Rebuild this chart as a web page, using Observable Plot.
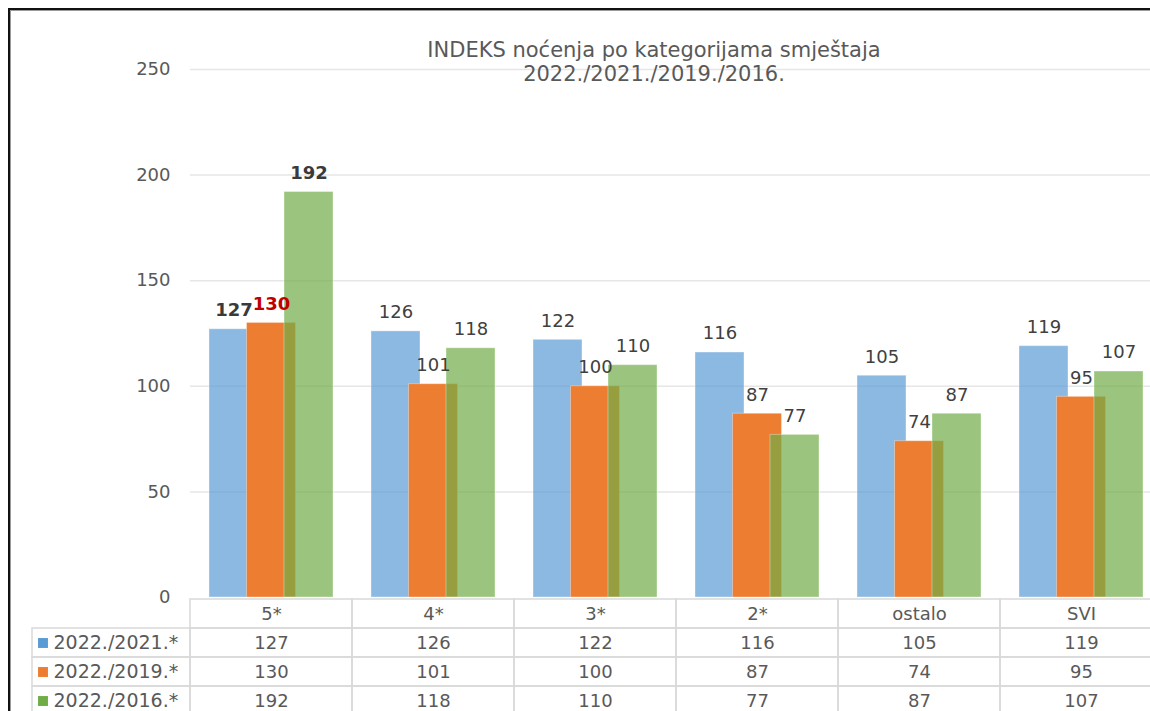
<!DOCTYPE html>
<html>
<head>
<meta charset="utf-8">
<script src="https://cdn.jsdelivr.net/npm/d3@7"></script>
<script src="https://cdn.jsdelivr.net/npm/@observablehq/plot@0.6"></script>
<style>
  html, body { margin: 0; padding: 0; background: #fff; overflow: hidden; width: 1150px; height: 711px; }
  #wrap { position: relative; width: 1150px; height: 711px; overflow: hidden; }
  #frame { position: absolute; left: 8px; top: 8px; width: 1200px; height: 800px;
           border-left: 2px solid #111; border-top: 2px solid #111; box-shadow: inset 1px 1px 0 #9a9a9a; }
  #title { position: absolute; left: 404px; width: 500px; top: 38px; text-align: center;
           font-family: "DejaVu Sans", Verdana, sans-serif; font-size: 21px; line-height: 24px; color: #595959; }
  #chart, #table { position: absolute; left: 0; }
  #chart { top: 0; }
  #table { top: 598px; }
</style>
</head>
<body>
<div id="wrap">
  <div id="frame"></div>
  <div id="chart"></div>
  <div id="table"></div>
  <div id="title">INDEKS noćenja po kategorijama smještaja<br>2022./2021./2019./2016.</div>
</div>
<script>
const categories = ["5*", "4*", "3*", "2*", "ostalo", "SVI"];
const seriesNames = ["2022./2021.*", "2022./2019.*", "2022./2016.*"];
const idx2021 = [127, 126, 122, 116, 105, 119];
const idx2019 = [130, 101, 100, 87, 74, 95];
const idx2016 = [192, 118, 110, 77, 87, 107];
const yTicks = [0, 50, 100, 150, 200, 250];
const highlightCategory = "5*";

const seriesColors = ["#5B9BD5", "#ED7D31", "#70AD47"];
const seriesOpacity = [0.7, 1, 0.7];
const highlightLabelColors = ["#3a3a3a", "#C00000", "#3a3a3a"];
const offsets = [-37.5, 0, 37.5];
const halfInset = 56.5;

const seriesValues = [idx2021, idx2019, idx2016];
const rows = categories.flatMap((c, i) =>
  seriesNames.map((s, j) => ({cat: c, series: s, value: seriesValues[j][i]})));

const font = "DejaVu Sans, Verdana, sans-serif";

const barMarks = seriesNames.map((s, j) =>
  Plot.barY(rows.filter(r => r.series === s), {
    x: "cat", y: "value", fill: "series", fillOpacity: seriesOpacity[j],
    stroke: "#ffffff", strokeOpacity: 0.35, strokeWidth: 1,
    insetLeft: halfInset + offsets[j], insetRight: halfInset - offsets[j]
  }));

const labelMarks = seriesNames.flatMap((s, j) => [
  Plot.text(rows.filter(r => r.series === s && r.cat !== highlightCategory), {
    x: "cat", y: "value", text: d => String(d.value), dx: offsets[j], dy: -19,
    fontSize: 18, fill: "#404040"
  }),
  Plot.text(rows.filter(r => r.series === s && r.cat === highlightCategory), {
    x: "cat", y: "value", text: d => String(d.value), dx: offsets[j], dy: -19,
    fontSize: 18, fontWeight: "bold", fill: highlightLabelColors[j]
  })
]);

const chart = Plot.plot({
  width: 1150, height: 711,
  marginLeft: 190, marginRight: -12, marginTop: 69, marginBottom: 114,
  style: {fontFamily: font, background: "transparent", overflow: "hidden"},
  x: {type: "band", domain: categories, padding: 0, axis: null},
  y: {domain: [0, 250], axis: null},
  color: {domain: seriesNames, range: seriesColors},
  marks: [
    Plot.gridY(yTicks.filter(t => t > 0), {stroke: "#e6e6e6", strokeOpacity: 1, strokeWidth: 1.5}),
    Plot.axisY(yTicks, {tickSize: 0, tickPadding: 20, fontSize: 18, fill: "#595959", label: null}),
    ...barMarks,
    ...labelMarks
  ]
});
document.getElementById("chart").appendChild(chart);

// data table below the chart
const tableCols = ["", ...categories];
const tableRows = ["", ...seriesNames];
const table = Plot.plot({
  width: 1150, height: 118,
  marginLeft: 28, marginRight: -12, marginTop: 0, marginBottom: 0,
  style: {fontFamily: font, background: "transparent", overflow: "hidden"},
  x: {type: "band", domain: tableCols, padding: 0, axis: null},
  y: {type: "band", domain: tableRows, padding: 0, axis: null},
  color: {domain: seriesNames, range: seriesColors},
  marks: [
    Plot.cell(categories, {x: d => d, y: () => "", fill: "none", stroke: "#d9d9d9", strokeWidth: 1.5}),
    Plot.cell(rows, {x: "cat", y: "series", fill: "none", stroke: "#d9d9d9", strokeWidth: 1.5}),
    Plot.cell(seriesNames, {x: () => "", y: d => d, fill: "none", stroke: "#d9d9d9", strokeWidth: 1.5, insetLeft: 4}),
    Plot.text(categories, {x: d => d, y: () => "", text: d => d, fontSize: 18, fill: "#595959"}),
    Plot.text(rows, {x: "cat", y: "series", text: d => String(d.value), fontSize: 18, fill: "#595959"}),
    Plot.dot(seriesNames, {x: () => "", y: d => d, symbol: "square", r: 5.6, fill: d => d, dx: -66.5}),
    Plot.text(seriesNames, {x: () => "", y: d => d, text: d => d, textAnchor: "start", dx: -56, fontSize: 19, fill: "#595959"})
  ]
});
document.getElementById("table").appendChild(table);
</script>
</body>
</html>
